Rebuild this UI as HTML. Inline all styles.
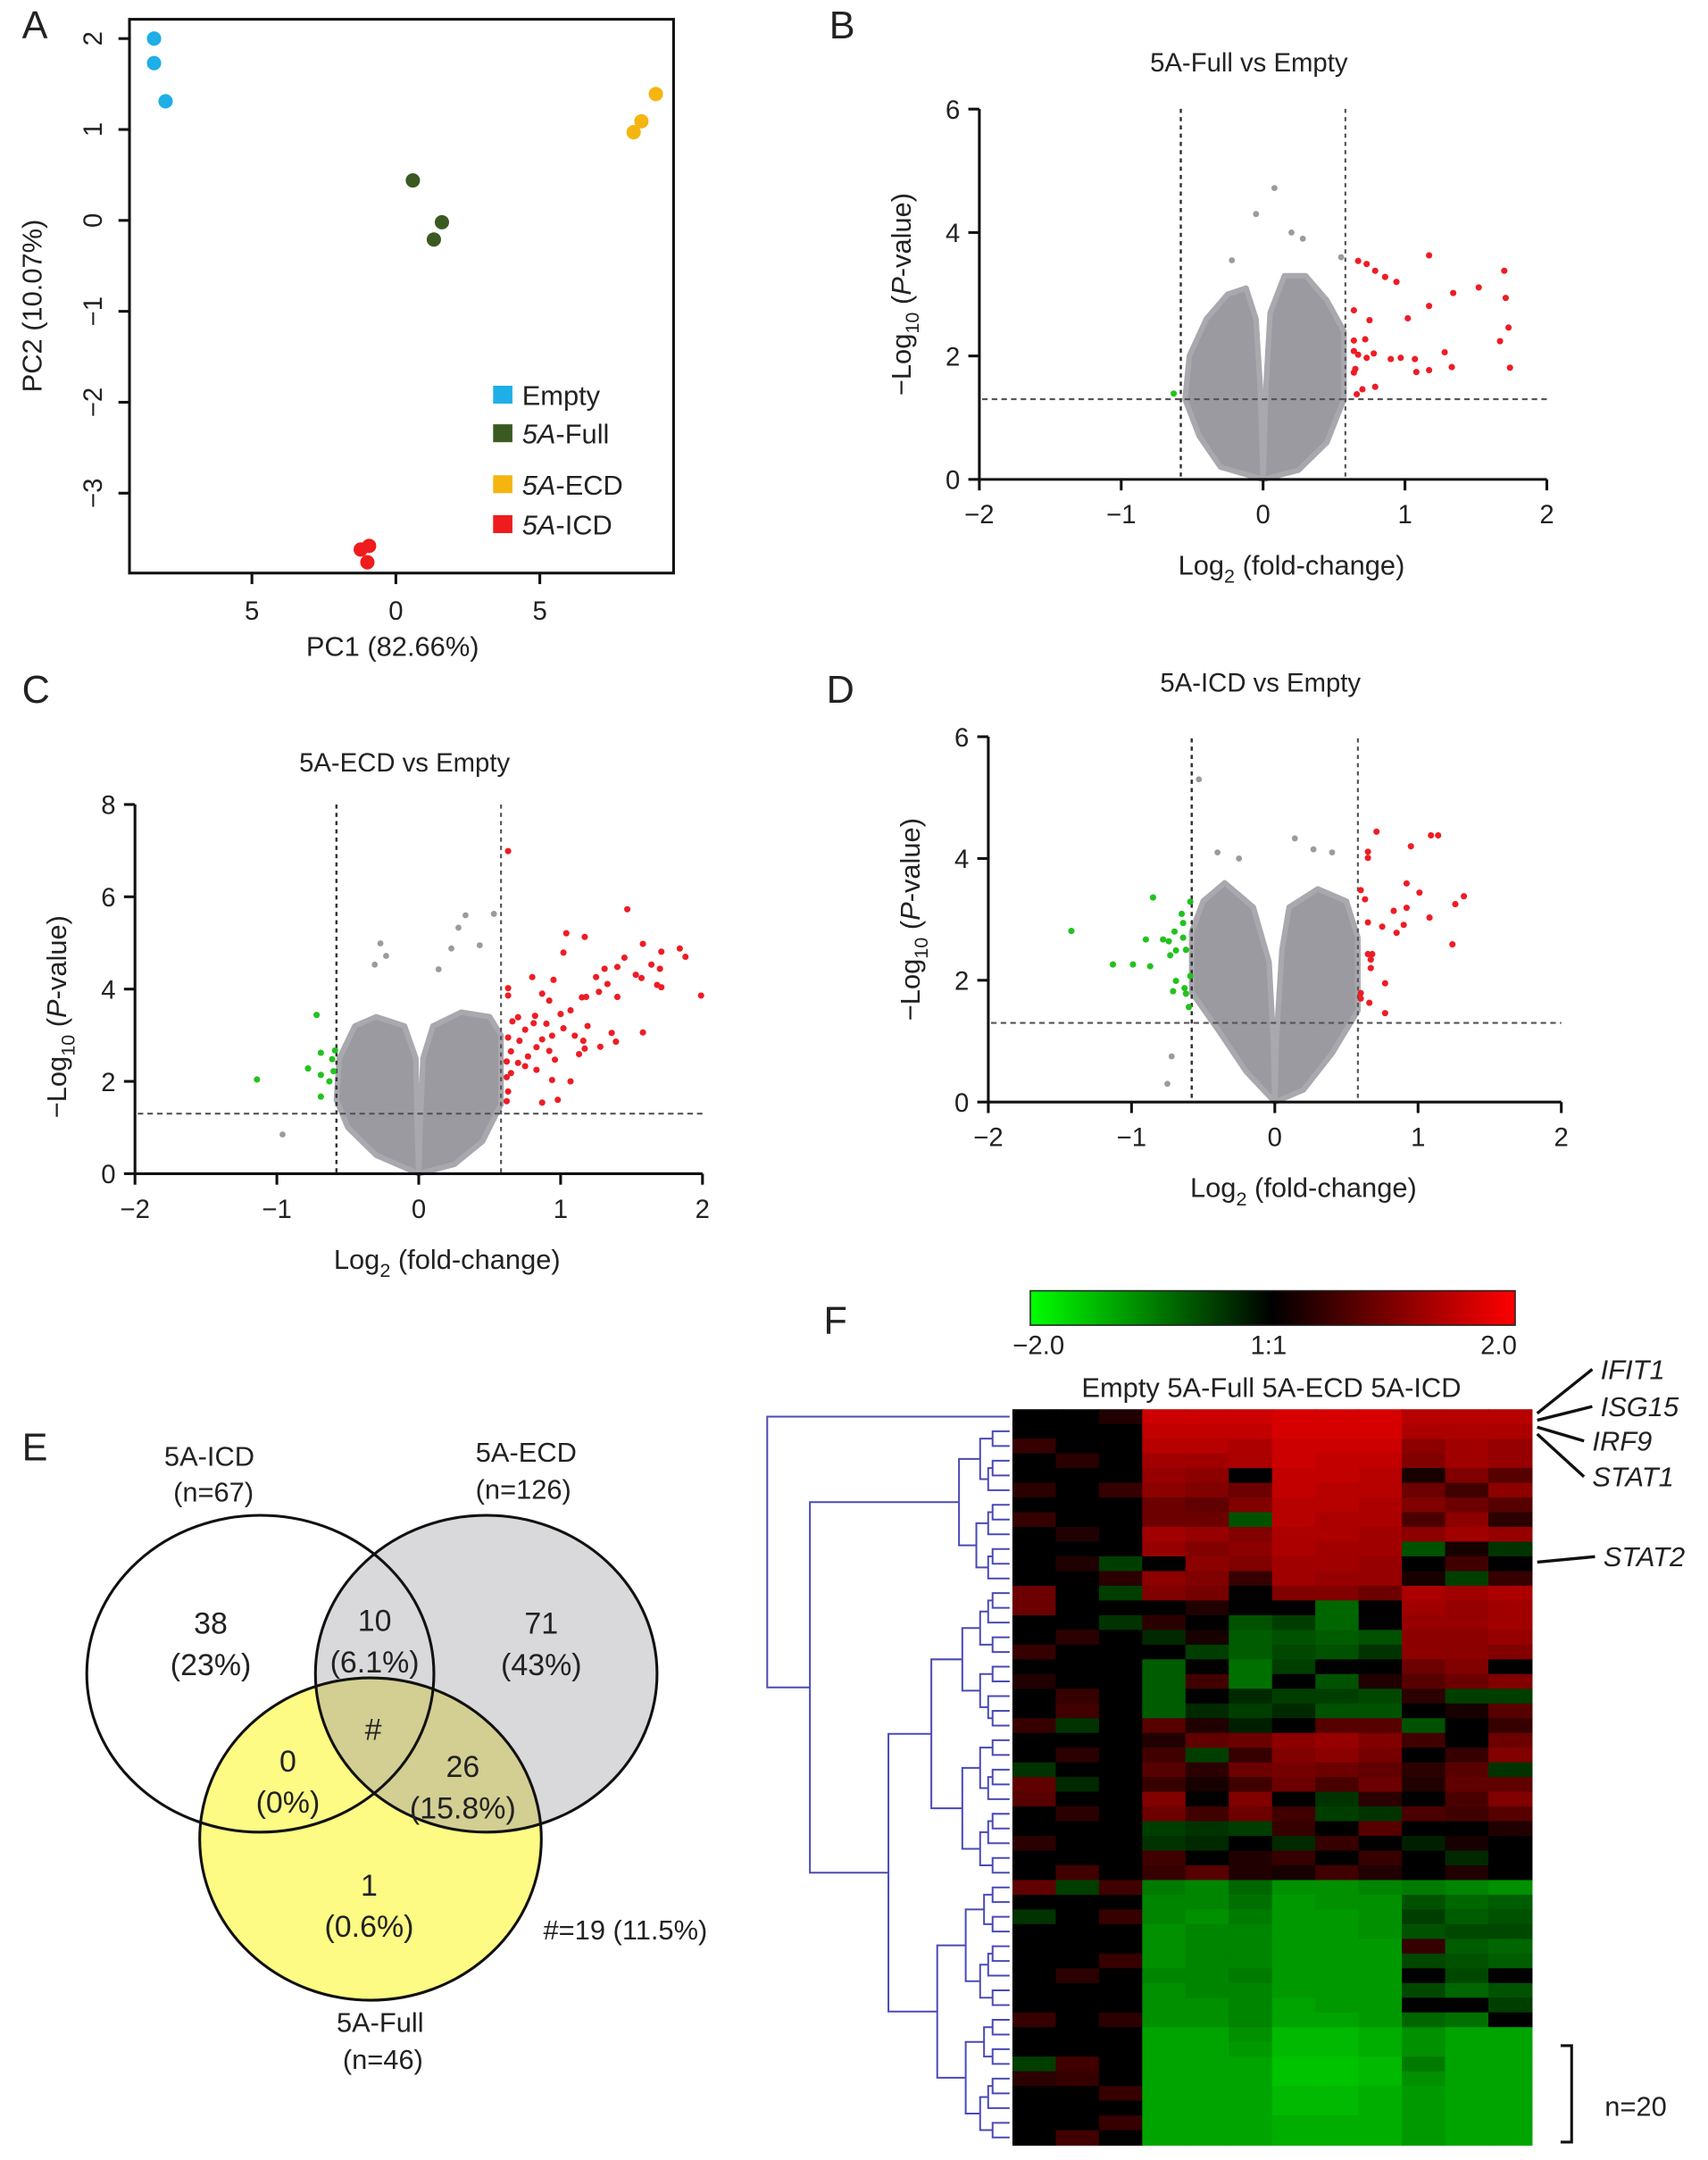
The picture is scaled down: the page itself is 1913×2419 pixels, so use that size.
<!DOCTYPE html>
<html><head><meta charset="utf-8"><title>Figure</title>
<style>
html,body{margin:0;padding:0;background:#fff;}
svg{display:block;font-family:"Liberation Sans",Arial,sans-serif;}
</style></head>
<body>
<svg id="fig" width="1913" height="2419" viewBox="0 0 1240 1568" preserveAspectRatio="none" xmlns="http://www.w3.org/2000/svg">
<defs>
<linearGradient id="cbar" x1="0" x2="1" y1="0" y2="0">
<stop offset="0" stop-color="#00ff00"/><stop offset="0.5" stop-color="#000"/><stop offset="1" stop-color="#ff0000"/>
</linearGradient>
</defs>
<g id="root"></g>
</svg>
<script>
// ---------- Panel A data ----------
const pcaGroups = ["Empty","5A-Full","5A-ECD","5A-ICD"];
const pcaColors = ["#1eaee8","#3a5a22","#f5b511","#ee1c1c"];
const pc1Empty = [-8.4,-8.4,-8.0];
const pc2Empty = [2.0,1.73,1.31];
const pc1Full = [0.59,1.60,1.32];
const pc2Full = [0.44,-0.02,-0.21];
const pc1ECD = [9.03,8.53,8.26];
const pc2ECD = [1.39,1.09,0.97];
const pc1ICD = [-0.93,-1.22,-0.99];
const pc2ICD = [-3.58,-3.62,-3.76];
const pcaXTicks = [-5,0,5];
const pcaXTickLabels = ["5","0","5"];
const pcaYTicks = [2,1,0,-1,-2,-3];
const pcaYTickLabels = ["2","1","0","\u22121","\u22122","\u22123"];

// ---------- Volcano data ----------
const volXTicks = [-2,-1,0,1,2];
const volXTickLabels = ["\u22122","\u22121","0","1","2"];
const bYTicks = [0,2,4,6];
const cYTicks = [0,2,4,6,8];
const dYTicks = [0,2,4,6];
// B: 5A-Full vs Empty
const bRedX = [0.67,0.73,0.79,0.86,0.94,1.17,1.34,1.52,1.70,1.71,1.17,1.02,0.75,0.64,1.73,1.67,1.28,0.64,0.72,0.64,0.67,0.73,0.78,0.90,0.97,1.07,1.33,1.17,1.08,1.74,0.65,0.64,0.70,0.79,0.66];
const bRedY = [3.54,3.49,3.38,3.28,3.20,3.63,3.02,3.11,3.38,2.94,2.81,2.61,2.58,2.74,2.46,2.24,2.06,2.25,2.27,2.08,2.02,1.97,2.04,1.95,1.97,1.95,1.82,1.77,1.74,1.81,1.79,1.73,1.46,1.50,1.38];
const bGreenX = [-0.63];
const bGreenY = [1.39];
const bGrayX = [0.08,-0.05,0.28,0.20,-0.22,0.55];
const bGrayY = [4.72,4.3,3.9,4.0,3.55,3.6];
const bLeftLobeX = [0,-0.3,-0.45,-0.55,-0.52,-0.4,-0.25,-0.12,-0.05,-0.02];
const bLeftLobeY = [0,0.2,0.7,1.3,2.0,2.6,3.0,3.1,2.6,1.5];
const bRightLobeX = [0.02,0.05,0.15,0.3,0.45,0.57,0.57,0.45,0.25,0];
const bRightLobeY = [1.5,2.7,3.3,3.3,2.9,2.4,1.3,0.6,0.15,0];
// C: 5A-ECD vs Empty
const cRedX = [0.63,1.47,1.04,1.17,1.58,1.84,1.71,1.88,1.02,1.45,1.64,1.70,1.40,1.31,1.53,1.57,1.25,0.80,0.95,1.33,1.68,1.71,1.27,1.99,1.40,1.15,1.18,0.87,0.92,0.63,0.63,1.07,1.00,0.82,0.70,0.66,0.90,0.81,1.19,1.02,0.75,1.58,1.36,0.94,1.10,0.63,0.71,1.16,1.39,0.87,1.28,0.83,1.17,0.92,0.65,1.13,0.77,0.96,0.62,0.70,0.75,0.83,0.65,0.62,0.94,1.07,0.63,0.87,0.98,0.62];
const cRedY = [6.99,5.73,5.21,5.13,4.98,4.88,4.81,4.70,4.79,4.68,4.53,4.44,4.48,4.44,4.31,4.24,4.26,4.26,4.20,4.11,4.09,4.04,3.94,3.86,3.83,3.82,3.83,3.90,3.75,3.86,4.02,3.54,3.46,3.42,3.39,3.30,3.25,3.26,3.20,3.15,3.12,3.06,3.05,2.99,2.99,2.95,2.88,2.88,2.86,2.91,2.75,2.74,2.71,2.66,2.65,2.59,2.54,2.47,2.43,2.40,2.33,2.25,2.18,2.09,2.03,2.00,1.78,1.54,1.60,1.57];
const cGreenX = [-0.72,-0.69,-0.78,-0.69,-1.14,-0.61,-0.63,-0.69,-0.59,-0.60];
const cGreenY = [3.44,2.62,2.28,2.14,2.04,2.48,2.00,1.67,2.67,2.22];
const cGrayX = [0.33,0.53,0.28,-0.27,0.43,0.23,-0.23,-0.31,0.14,-0.96];
const cGrayY = [5.6,5.63,5.33,4.99,4.95,4.88,4.72,4.53,4.43,0.85];
const cLeftLobeX = [0,-0.3,-0.5,-0.58,-0.56,-0.45,-0.3,-0.1,-0.02,-0.01];
const cLeftLobeY = [0,0.4,1.0,1.6,2.5,3.2,3.4,3.2,2.5,1.0];
const cRightLobeX = [0.01,0.03,0.1,0.3,0.5,0.58,0.58,0.45,0.25,0];
const cRightLobeY = [1.0,2.5,3.2,3.5,3.4,3.0,1.5,0.7,0.2,0];
// D: 5A-ICD vs Empty
const dRedX = [0.71,1.09,1.14,0.95,0.65,0.65,0.92,1.01,1.32,1.26,0.60,0.63,0.83,0.92,1.08,0.65,0.75,0.90,0.85,1.24,0.65,0.68,0.67,0.67,0.77,0.60,0.60,0.66,0.77];
const dRedY = [4.44,4.38,4.38,4.20,4.11,4.01,3.59,3.44,3.38,3.25,3.48,3.33,3.14,3.19,3.03,2.95,2.88,2.91,2.78,2.59,2.43,2.43,2.34,2.20,1.95,1.79,1.70,1.63,1.46];
const dGreenX = [-1.42,-0.85,-1.13,-0.99,-0.87,-0.90,-0.78,-0.74,-0.70,-0.65,-0.64,-0.64,-0.69,-0.73,-0.62,-0.69,-0.71,-0.63,-0.62,-0.60,-0.59,-0.59];
const dGreenY = [2.81,3.36,2.26,2.26,2.23,2.67,2.67,2.64,2.80,3.09,2.94,2.70,2.49,2.41,2.50,1.99,1.82,1.87,1.78,1.56,3.29,2.07];
const dGrayX = [-0.53,0.14,-0.40,0.27,-0.25,0.40,-0.72,-0.75];
const dGrayY = [5.3,4.33,4.1,4.15,4.0,4.1,0.75,0.3];
const dLeftLobeX = [0,-0.2,-0.4,-0.58,-0.58,-0.5,-0.35,-0.15,-0.04,-0.01];
const dLeftLobeY = [0,0.5,1.2,1.8,2.8,3.3,3.6,3.2,2.3,1.0];
const dRightLobeX = [0.01,0.05,0.1,0.3,0.5,0.58,0.58,0.4,0.2,0];
const dRightLobeY = [1.0,2.5,3.2,3.5,3.3,2.7,1.5,0.8,0.2,0];

// ---------- Venn data ----------
const vennRegionCounts = ["38","10","71","#","0","26","1"];
const vennRegionPcts = ["(23%)","(6.1%)","(43%)","","(0%)","(15.8%)","(0.6%)"];

// ---------- Heatmap data ----------
const heatCols = ["E1","E2","E3","F1","F2","F3","C1","C2","C3","I1","I2","I3"];
const heatGroups = ["Empty","5A-Full","5A-ECD","5A-ICD"];
const heatRows = [
[0,0,0.3,1.9,1.9,1.9,2,2,2,1.7,1.7,1.7],
[0,0,0,1.8,1.8,1.8,2,2,2,1.6,1.6,1.6],
[0.5,0,0,1.7,1.7,1.6,1.9,1.9,1.9,1.3,1.5,1.4],
[0,0.4,0,1.5,1.5,1.6,1.9,1.8,1.8,1.2,1.5,1.4],
[0,0,0,1.4,1.3,0,1.8,1.8,1.7,0.2,1.2,0.8],
[0.4,0,0.5,1.3,1.2,1.0,1.8,1.7,1.7,1.0,0.6,1.3],
[0,0,0,1.0,0.9,1.2,1.7,1.7,1.6,1.2,1.0,0.8],
[0.5,0,0,1.0,1.0,-0.8,1.7,1.6,1.6,0.7,1.3,0.4],
[0,0.3,0,1.5,1.4,1.2,1.6,1.6,1.5,1.3,1.5,1.4],
[0,0,0,1.4,1.2,1.3,1.6,1.5,1.5,-0.8,0.2,-0.5],
[0,0.3,-0.6,0,1.3,1.2,1.5,1.5,1.4,0,0.6,0],
[0,0,0.4,1.3,1.2,0.5,1.5,1.4,1.4,0.2,-0.6,0.5],
[1,0,-0.6,1.2,1.1,0,1.2,1.2,1.0,1.6,1.5,1.6],
[1,0,0,0,0.3,0,0,-1,0,1.5,1.4,1.5],
[0,0,-0.5,0.4,0,-0.8,-0.6,-1,0,1.4,1.4,1.5],
[0,0.4,0,-0.4,0.2,-0.9,-0.8,-0.9,-0.8,1.3,1.3,1.4],
[0.5,0,0,0,-0.6,-0.9,-0.7,-0.8,-0.5,1.3,1.3,1.2],
[0,0,0,-0.9,0,-1.1,-0.6,0,0,1.0,1.2,0],
[0.3,0,0,-0.9,0.6,-1.1,0,-0.8,0.3,0.8,1.0,1.2],
[0,0.5,0,-0.9,0,-0.4,-0.6,-0.6,-0.7,0.4,-0.6,-0.6],
[0,0.6,0,-0.9,-0.4,-0.6,-0.4,-0.8,-0.8,0,0.2,0.8],
[0.5,-0.5,0,0.8,0.3,-0.3,0,0.8,0.8,-0.8,0,0.5],
[0,0,0,0.3,0.9,1.0,1.3,1.4,1.2,0.6,0,1.0],
[0,0.4,0,0.6,-0.6,0.5,1.2,1.3,1.1,0,0.5,1.2],
[-0.5,0,0,0.8,0.4,1.0,1.1,1.0,0.9,0.4,0.8,-0.5],
[0.9,-0.4,0,0.5,0.2,0.6,1.0,0.7,1.0,0.3,0.9,0.9],
[0.8,0,0,1.2,0,1.2,0,-0.5,0.4,0,0.7,1.2],
[0,0.4,0,1.0,0.6,1.0,0.6,-0.6,-0.5,0.7,0.6,0.8],
[0,0,0,-0.6,-0.5,-0.6,0.5,0,0.8,0,0,0.3],
[0.4,0,0,-0.5,-0.4,0,-0.4,0.5,0,-0.3,0.2,0],
[0,0,0,0.6,0,0.3,0.5,0,0.5,0,-0.4,0],
[0,0.6,0,0.5,0.8,0.3,0.2,0.6,0.3,0,0.3,0],
[0.9,-0.6,0.6,-1.2,-1.3,-1.0,-1.4,-1.4,-1.3,-1.2,-1.3,-1.4],
[0,0,0,-1.3,-1.3,-1.1,-1.5,-1.4,-1.4,-0.8,-1,-0.9],
[-0.5,0,0.5,-1.3,-1.4,-1.2,-1.5,-1.5,-1.4,-0.6,-0.9,-0.8],
[0,0,0,-1.4,-1.3,-1.3,-1.5,-1.5,-1.4,-0.8,-0.7,-0.7],
[0,0,0,-1.4,-1.3,-1.3,-1.5,-1.5,-1.5,0.5,-0.9,-1.0],
[0,0,0.5,-1.4,-1.3,-1.3,-1.5,-1.5,-1.5,-0.7,-0.8,-0.9],
[0,0.4,0,-1.3,-1.3,-1.2,-1.5,-1.5,-1.5,0,-0.7,0],
[0,0,0,-1.4,-1.3,-1.3,-1.5,-1.5,-1.5,-0.7,-1.0,-0.8],
[0,0,0,-1.4,-1.4,-1.3,-1.6,-1.5,-1.5,0,0,-0.6],
[0.5,0,0.4,-1.4,-1.4,-1.3,-1.6,-1.6,-1.5,-1.0,-1.1,0],
[0,0,0,-1.6,-1.6,-1.4,-1.8,-1.8,-1.7,-1.4,-1.6,-1.6],
[0,0,0,-1.6,-1.6,-1.5,-1.8,-1.8,-1.7,-1.4,-1.6,-1.6],
[-0.6,0.6,0,-1.6,-1.6,-1.6,-1.9,-1.9,-1.8,-1.2,-1.6,-1.6],
[0.4,0.5,0,-1.6,-1.6,-1.6,-1.9,-1.9,-1.8,-1.4,-1.6,-1.6],
[0,0,0.5,-1.6,-1.6,-1.6,-1.8,-1.8,-1.7,-1.5,-1.6,-1.6],
[0,0,0,-1.6,-1.6,-1.6,-1.8,-1.8,-1.7,-1.5,-1.6,-1.6],
[0,0,0.5,-1.6,-1.6,-1.6,-1.7,-1.7,-1.7,-1.5,-1.6,-1.6],
[0,0.6,0,-1.6,-1.6,-1.6,-1.7,-1.7,-1.7,-1.5,-1.6,-1.6]
];
const geneLabels = ["IFIT1","ISG15","IRF9","STAT1","STAT2"];

// ---------- drawing helpers ----------
const NS = "http://www.w3.org/2000/svg";
const root = document.getElementById("root");
function mk(tag, attrs, parent){
  const e = document.createElementNS(NS, tag);
  for (const k in attrs) e.setAttribute(k, attrs[k]);
  (parent||root).appendChild(e);
  return e;
}
function txt(s, x, y, size, parent, anchor, extra){
  const t = mk("text", Object.assign({x:x, y:y, "font-size":size, "text-anchor":anchor||"middle", fill:"#222"}, extra||{}), parent);
  t.textContent = s;
  return t;
}

// Panel letters
[["A",16,28],["B",602,28],["C",16,510],["D",600,510],["E",16,1060],["F",598,968]].forEach(p=>{
  const t = txt(p[0], p[1], p[2], 28, root, "start");
  
  
});

// ---------- Panel A ----------
(function(){
  const g = mk("g", {});
  
  
  const X = v => 287.4 + 20.9*v;
  const Y = v => 160 - 66*v;
  const box = mk("rect", {x:94, y:14, width:395, height:402, fill:"none", stroke:"#111", "stroke-width":2}, g);
  
  
  pcaXTicks.forEach((v,i)=>{
    mk("line",{x1:X(v),x2:X(v),y1:416,y2:424,stroke:"#111","stroke-width":2},g);
    const t = txt(pcaXTickLabels[i], X(v), 450, 19, g);
    
    
  });
  pcaYTicks.forEach((v,i)=>{
    mk("line",{x1:86,x2:94,y1:Y(v),y2:Y(v),stroke:"#111","stroke-width":2},g);
    const t = txt(pcaYTickLabels[i], 0, 0, 19, g, "middle", {transform:`translate(74,${Y(v)}) rotate(-90)`});
    
    
  });
  const xt = txt("PC1 (82.66%)", 285, 476, 20, g);
  
  
  const yt = txt("PC2 (10.07%)", 0, 0, 20, g, "middle", {transform:"translate(30,222) rotate(-90)"});
  
  
  const sets = [[pc1Empty,pc2Empty],[pc1Full,pc2Full],[pc1ECD,pc2ECD],[pc1ICD,pc2ICD]];
  sets.forEach((s,gi)=>{
    s[0].forEach((v,i)=>{
      const c = mk("circle",{cx:X(v),cy:Y(s[1][i]),r:5.2,fill:pcaColors[gi]},g);
      
      
    });
  });
  const ly = [287,315,352,381];
  pcaGroups.forEach((name,i)=>{
    const r = mk("rect",{x:358,y:ly[i]-7,width:14,height:13,fill:pcaColors[i]},g);
    
    
    const t = mk("text",{x:379,y:ly[i]+7,"font-size":20,fill:"#222"},g);
    
    
    if (name==="Empty"){ t.textContent = "Empty"; }
    else {
      const a = document.createElementNS(NS,"tspan"); a.setAttribute("font-style","italic"); a.textContent="5A"; t.appendChild(a);
      const b = document.createElementNS(NS,"tspan"); b.textContent = name.slice(2); t.appendChild(b);
    }
  });
})();

// ---------- Volcano plot function ----------
function volcano(cfg){
  const g = mk("g", {});
  
  
  const X = v => cfg.x0 + cfg.xs*v;
  const Y = v => cfg.y0 - cfg.ys*v;
  const title = txt(cfg.title, X(-0.1), cfg.titleY, 19, g);
  
  
  [[cfg.lx,cfg.ly],[cfg.rx,cfg.ry]].forEach(l=>{
    const pts = l[0].map((v,i)=>X(v)+","+Y(l[1][i])).join(" ");
    const p = mk("polygon",{points:pts,fill:"#9a9aa0",stroke:"#a8a8ae","stroke-width":4,"stroke-linejoin":"round"},g);
    
    
  });
  cfg.gx.forEach((v,i)=>{
    const c = mk("circle",{cx:X(v),cy:Y(cfg.gy[i]),r:2.2,fill:"#9a9aa0"},g);
    
    
  });
  const xl = X(-2), xr = X(2);
  mk("line",{x1:X(-0.58),x2:X(-0.58),y1:cfg.yTop,y2:cfg.y0,stroke:"#333","stroke-width":1.6,"stroke-dasharray":"3 3"},g);
  mk("line",{x1:X(0.58),x2:X(0.58),y1:cfg.yTop,y2:cfg.y0,stroke:"#555","stroke-width":1.4,"stroke-dasharray":"3 3"},g);
  mk("line",{x1:xl+2,x2:xr,y1:Y(1.3),y2:Y(1.3),stroke:"#555","stroke-width":1.4,"stroke-dasharray":"4 3"},g);
  cfg.redX.forEach((v,i)=>{
    const c = mk("circle",{cx:X(v),cy:Y(cfg.redY[i]),r:2.3,fill:"#ee1c24"},g);
    
    
  });
  cfg.greenX.forEach((v,i)=>{
    const c = mk("circle",{cx:X(v),cy:Y(cfg.greenY[i]),r:2.3,fill:"#22c21e"},g);
    
    
  });
  const ya = mk("line",{x1:xl,x2:xl,y1:Y(cfg.yTicks[cfg.yTicks.length-1]),y2:cfg.y0,stroke:"#111","stroke-width":2},g);
   
  const xa = mk("line",{x1:xl,x2:xr,y1:cfg.y0,y2:cfg.y0,stroke:"#111","stroke-width":2},g);
   
  volXTicks.forEach((v,i)=>{
    mk("line",{x1:X(v),x2:X(v),y1:cfg.y0,y2:cfg.y0+8,stroke:"#111","stroke-width":2},g);
    const t = txt(volXTickLabels[i], X(v), cfg.y0+32, 19, g);
     
  });
  cfg.yTicks.forEach(v=>{
    mk("line",{x1:xl-8,x2:xl,y1:Y(v),y2:Y(v),stroke:"#111","stroke-width":2},g);
    const t = txt(String(v), xl-14, Y(v)+7, 19, g, "end");
     
  });
  const xt = mk("text",{x:X(0.2),y:cfg.y0+69,"font-size":20,"text-anchor":"middle",fill:"#222"},g);
  xt.innerHTML = 'Log<tspan font-size="14" dy="6">2</tspan><tspan dy="-6"> (fold-change)</tspan>';
   
  const yt = mk("text",{"font-size":20,"text-anchor":"middle",fill:"#222",transform:`translate(${xl-50},${Y(cfg.yMidV)}) rotate(-90)`},g);
  yt.innerHTML = '\u2212Log<tspan font-size="14" dy="6">10</tspan><tspan dy="-6"> (</tspan><tspan font-style="italic">P</tspan>-value)';
   
}
volcano({name:"volcano-5a-full",title:"5A-Full vs Empty",titleY:52,x0:917,xs:103,y0:348,ys:44.8,yTop:79,yTicks:bYTicks,yMidV:3,
  redX:bRedX,redY:bRedY,greenX:bGreenX,greenY:bGreenY,gx:bGrayX,gy:bGrayY,lx:bLeftLobeX,ly:bLeftLobeY,rx:bRightLobeX,ry:bRightLobeY});
volcano({name:"volcano-5a-ecd",title:"5A-ECD vs Empty",titleY:560,x0:304,xs:103,y0:852,ys:33.5,yTop:584,yTicks:cYTicks,yMidV:3.4,
  redX:cRedX,redY:cRedY,greenX:cGreenX,greenY:cGreenY,gx:cGrayX,gy:cGrayY,lx:cLeftLobeX,ly:cLeftLobeY,rx:cRightLobeX,ry:cRightLobeY});
volcano({name:"volcano-5a-icd",title:"5A-ICD vs Empty",titleY:502,x0:925.5,xs:104,y0:800,ys:44.2,yTop:536,yTicks:dYTicks,yMidV:3,
  redX:dRedX,redY:dRedY,greenX:dGreenX,greenY:dGreenY,gx:dGrayX,gy:dGrayY,lx:dLeftLobeX,ly:dLeftLobeY,rx:dRightLobeX,ry:dRightLobeY});

// ---------- Panel E Venn ----------
(function(){
  const g = mk("g",{});
   
  const icd = {cx:189,cy:1215,rx:126,ry:115};
  const ecd = {cx:353,cy:1215,rx:124,ry:115};
  const full = {cx:269,cy:1335,rx:124,ry:117};
  const defs = mk("defs",{},g);
  [["clipICD",icd],["clipECD",ecd],["clipFull",full]].forEach(c=>{
    const cp = mk("clipPath",{id:c[0]},defs);
    mk("ellipse",c[1],cp);
  });
  mk("ellipse",Object.assign({fill:"#d9d9db"},ecd),g);
  mk("ellipse",Object.assign({fill:"#fdfb84"},full),g);
  const cg = mk("g",{"clip-path":"url(#clipECD)"},g);
  mk("ellipse",Object.assign({fill:"#d3cf92"},full),cg);
  [["venn-circle-icd",icd],["venn-circle-ecd",ecd],["venn-circle-full",full]].forEach(c=>{
    const e = mk("ellipse",Object.assign({fill:"none",stroke:"#111","stroke-width":2},c[1]),g);
     
  });
  const pos = [[153,1180],[272,1178],[393,1180],[271,1257],[209,1280],[336,1284],[268,1370]];
  vennRegionCounts.forEach((s,i)=>{
    const t = txt(s,pos[i][0],pos[i][1]+6,22,g);
     
    if (vennRegionPcts[i]){
      const p = txt(vennRegionPcts[i],pos[i][0],pos[i][1]+36,22,g);
       
    }
  });
  [["5A-ICD",152,1064],["(n=67)",155,1090],["5A-ECD",382,1061],["(n=126)",380,1088],["5A-Full",276,1475],["(n=46)",278,1502]].forEach(l=>{
    const t = txt(l[0],l[1],l[2],20,g);
     
  });
  const n = txt("#=19 (11.5%)",454,1408,20,g);
   
})();

// ---------- Panel F heatmap ----------
(function(){
  const g = mk("g",{});
   
  const hx0 = 735, hx1 = 1112, hy0 = 1023, hy1 = 1557;
  const cw = (hx1-hx0)/heatCols.length, rh = (hy1-hy0)/heatRows.length;
  const color = v => v>=0 ? `rgb(${Math.round(Math.min(1,v/2)*215)},0,0)` : `rgb(0,${Math.round(Math.min(1,-v/2)*205)},0)`;
  heatRows.forEach((row,r)=>{
    row.forEach((v,c)=>{
      const cell = mk("rect",{x:hx0+c*cw,y:hy0+r*rh,width:cw+0.6,height:rh+0.6,fill:color(v)},g);
      
      
    });
  });
  const cb = mk("rect",{x:748,y:937,width:352,height:25,fill:"url(#cbar)",stroke:"#222","stroke-width":1},g);
   
  [["\u22122.0",754],["1:1",921],["2.0",1088]].forEach(l=>{
    const t = txt(l[0],l[1],983,19,g);
     
  });
  const hdr = txt("Empty 5A-Full 5A-ECD 5A-ICD",923,1014,20,g);
   
  // dendrogram
  const dg = mk("g",{stroke:"#4a4ab8","stroke-width":1.3,fill:"none"},g);
   
  const N = heatRows.length;
  function build(a,b){
    if (b-a===1){ return [hy0+(a+0.5)*rh, hx0-2]; }
    const m = Math.floor((a+b)/2) + ((b-a)%2 && a%3===0 ? 1 : 0);
    const L = build(a,m), R = build(m,b);
    const x = hx0 - 6 - 110*Math.pow((b-a)/N,0.8);
    mk("path",{d:`M${L[1]},${L[0]}H${x}V${R[0]}H${R[1]}`},dg);
    return [(L[0]+R[0])/2, x];
  }
  function join(L,R,x){
    mk("path",{d:`M${L[1]},${L[0]}H${x}V${R[0]}H${R[1]}`},dg);
    return [(L[0]+R[0])/2, x];
  }
  const leaf0 = [hy0+0.5*rh, hx0-2];
  const upper = build(1,12);
  const lowA = build(12,32);
  const lowB = build(32,N);
  const lower = join(lowA, lowB, 645);
  const mid = join(upper, lower, 588);
  join(leaf0, mid, 557);
  // gene labels
  const gy = [1000,1027,1052,1078,1136];
  const ly = [1026,1031,1036,1041,1134];
  const lx2 = [1156,1156,1150,1150,1158];
  geneLabels.forEach((s,i)=>{
    const ln = mk("line",{x1:1116,y1:ly[i],x2:lx2[i],y2:gy[i]-6,stroke:"#111","stroke-width":2.2},g);
     
    const t = txt(s, lx2[i]+6, gy[i]+1, 20, g, "start", {"font-style":"italic"});
     
  });
  const br = mk("path",{d:"M1133,1485H1141V1555H1133",stroke:"#111","stroke-width":2,fill:"none"},g);
   
  const n20 = txt("n=20",1165,1536,20,g,"start");
   
})();
</script>
</body></html>
